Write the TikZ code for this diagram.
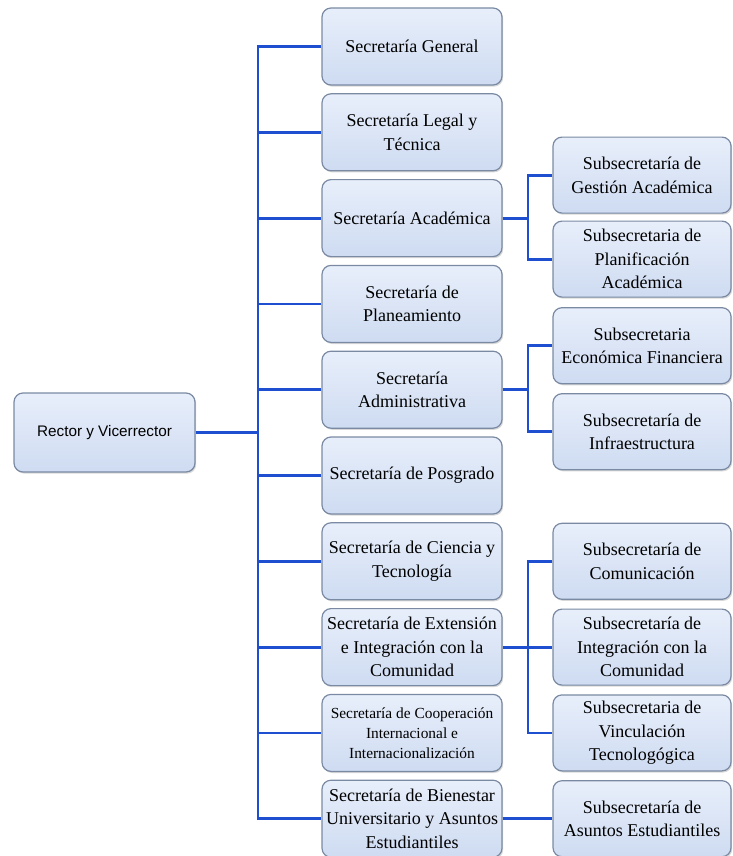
\documentclass[tikz,border=0pt]{standalone}
\usepackage{fontspec}
\setmainfont{Liberation Serif}
\newfontfamily\rectorfont{Liberation Sans}
\usetikzlibrary{positioning, shadows}

\definecolor{linkblue}{HTML}{1F4FD1}
\definecolor{boxedge}{HTML}{7A8AA3}
\definecolor{boxtop}{HTML}{E8EFFB}
\definecolor{boxbot}{HTML}{CEDBF1}

\begin{document}
\begin{tikzpicture}[
    x=1pt, y=-1pt,
    node distance=7.6pt and 49.8pt,
    every node/.style={align=center},
    org/.style={rectangle, draw=boxedge, line width=1.2pt, rounded corners=9pt, top color=boxtop, bottom color=boxbot, drop shadow={shadow xshift=1.2pt, shadow yshift=-1.6pt, fill=black!30}, inner sep=2pt, font=\fontsize{18}{23.5}\selectfont},
    sec/.style={org, minimum width=180pt, minimum height=77pt},
    sub/.style={org, minimum width=178pt, minimum height=76pt},
    link/.style={draw=linkblue, line width=2.8pt}
]
\useasboundingbox (0,0) rectangle (732,856);
\coordinate (bus) at (258,0);
\coordinate (subbus) at (528,0);

% secretarias
\node[sec] (gen) at (412,46.5) {Secretaría General};
\node[sec, below=of gen] (legal) {Secretaría Legal y\\Técnica};
\node[sec, below=of legal] (acad) {Secretaría Académica};
\node[sec, below=of acad] (plan) {Secretaría de\\Planeamiento};
\node[sec, below=of plan] (admin) {Secretaría\\Administrativa};
\node[sec, below=of admin] (posgrado) {Secretaría de Posgrado};
\node[sec, below=of posgrado] (ciencia) {Secretaría de Ciencia y\\Tecnología};
\node[sec, below=of ciencia] (extension) {Secretaría de Extensión\\e Integración con la\\Comunidad};
\node[sec, below=of extension, font=\fontsize{15.4}{20}\selectfont] (coop) {Secretaría de Cooperación\\Internacional e\\Internacionalización};
\node[sec, below=of coop] (bienestar) {Secretaría de Bienestar\\Universitario y Asuntos\\Estudiantiles};

\node[org, minimum width=181pt, minimum height=79pt, font=\rectorfont\fontsize{15.3}{18}\selectfont] (rector) at (104.5,432.5) {Rector y Vicerrector};

% subsecretarias
\node[sub, right=of acad, yshift=43pt] (gestion) {Subsecretaría de\\Gestión Académica};
\node[sub, right=of acad, yshift=-41pt] (planif) {Subsecretaria de\\Planificación\\Académica};
\node[sub, right=of admin, yshift=44pt] (economica) {Subsecretaria\\Económica Financiera};
\node[sub, right=of admin, yshift=-42pt] (infra) {Subsecretaría de\\Infraestructura};
\node[sub, right=of ciencia] (comunic) {Subsecretaría de\\Comunicación};
\node[sub, right=of extension] (integra) {Subsecretaría de\\Integración con la\\Comunidad};
\node[sub, right=of coop] (vincula) {Subsecretaria de\\Vinculación\\Tecnologógica};
\node[sub, right=of bienestar] (asuntos) {Subsecretaría de\\Asuntos Estudiantiles};

% conectores
\draw[link] (rector.east) -- (rector.east -| bus);
\draw[link] (gen.west) -| (bienestar.west -| bus) -- (bienestar.west);
\foreach \n in {legal, acad, plan, admin, posgrado, ciencia, extension, coop}
  \draw[link] (\n.west) -- (\n.west -| bus);
\draw[link] (acad.east) -- (acad.east -| subbus);
\draw[link] (gestion.west) -| (planif.west -| subbus) -- (planif.west);
\draw[link] (admin.east) -- (admin.east -| subbus);
\draw[link] (economica.west) -| (infra.west -| subbus) -- (infra.west);
\draw[link] (extension.east) -- (integra.west);
\draw[link] (comunic.west) -| (vincula.west -| subbus) -- (vincula.west);
\draw[link] (bienestar.east) -- (asuntos.west);
\end{tikzpicture}
\end{document}
